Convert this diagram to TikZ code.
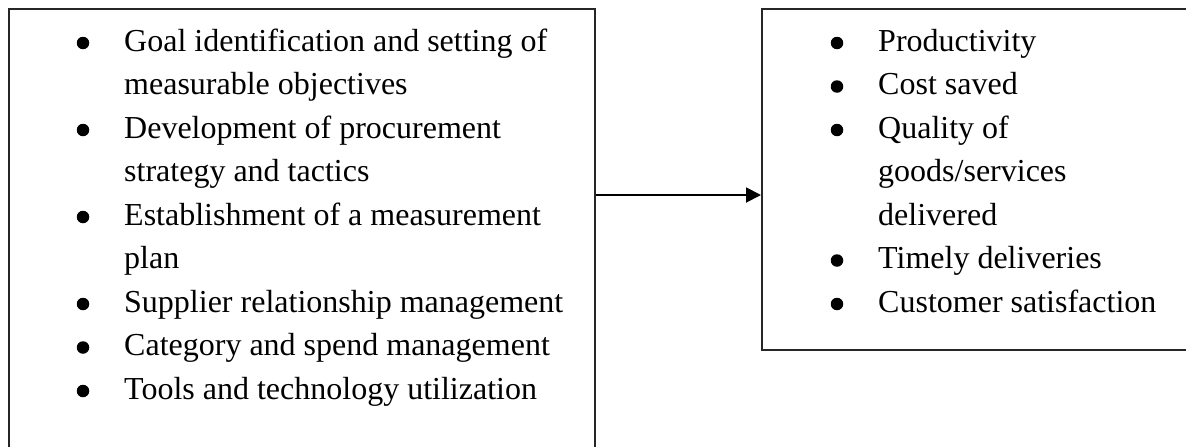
\documentclass[tikz,border=0pt]{standalone}
\usepackage{fontspec}
\setmainfont{Liberation Serif}
\usetikzlibrary{arrows.meta}
\begin{document}
\begin{tikzpicture}[x=1pt,y=-1pt,
  boxline/.style={draw=black!85,line width=1.6pt},
  dot/.style={circle,fill=black,inner sep=0pt,minimum size=12.5pt},
  itemtext/.style={anchor=base west,inner sep=0pt,font=\fontsize{32}{38}\selectfont},
  link/.style={line width=1.9pt,-{Triangle[length=15pt,width=15pt]}}]
\useasboundingbox (0,0) rectangle (1186,447);
\begin{scope}
\clip (0,0) rectangle (1186,447);
\node[boxline,minimum width=586pt,minimum height=462pt,inner sep=0pt,anchor=north west] (left) at (8,8) {};
\node[boxline,minimum width=440pt,minimum height=341pt,inner sep=0pt,anchor=north west] (right) at (761,8) {};
\end{scope}
% left list
\foreach \y/\b/\t [count=\i] in {
  51/1/{Goal identification and setting of},
  94.5/0/{measurable objectives},
  138/1/{Development of procurement},
  181.5/0/{strategy and tactics},
  225/1/{Establishment of a measurement},
  268.5/0/{plan},
  312/1/{Supplier relationship management},
  355.5/1/{Category and spend management},
  399/1/{Tools and technology utilization}}{
  \node[itemtext] (l\i) at (124,\y) {\t};
  \ifnum\b=1 \node[dot] (lb\i) at (83,\y-8) {};\fi
}
% right list
\foreach \y/\b/\t [count=\i] in {
  51/1/{Productivity},
  94.5/1/{Cost saved},
  138/1/{Quality of},
  181.5/0/{goods/services},
  225/0/{delivered},
  268.5/1/{Timely deliveries},
  312/1/{Customer satisfaction}}{
  \node[itemtext] (r\i) at (878,\y) {\t};
  \ifnum\b=1 \node[dot] (rb\i) at (837,\y-8) {};\fi
}
\coordinate (ay) at (0,195);
\draw[link] (left.east |- ay) -- (right.west |- ay);
\end{tikzpicture}
\end{document}
